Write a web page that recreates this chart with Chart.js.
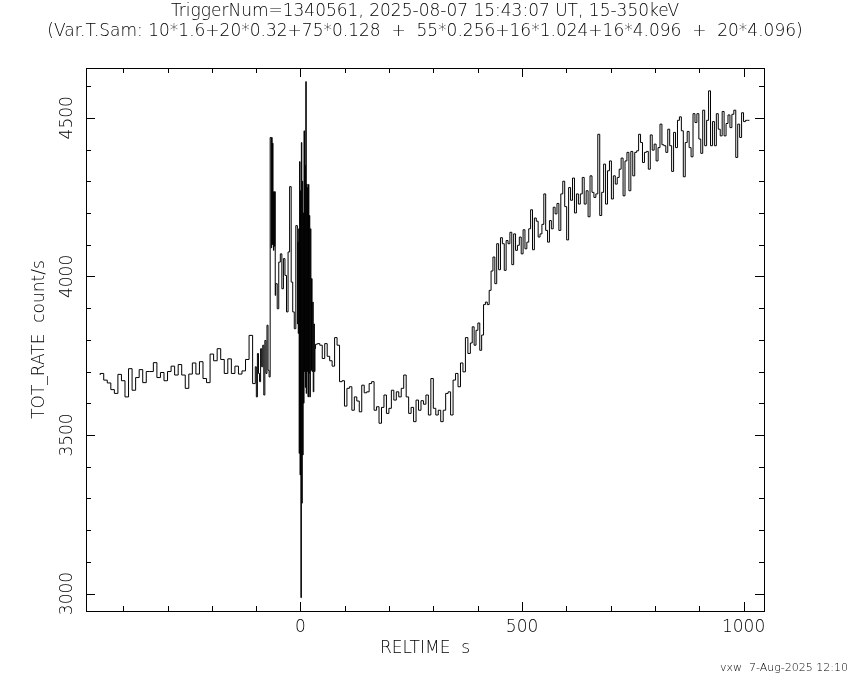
<!DOCTYPE html>
<html>
<head>
<meta charset="utf-8">
<title>TOT_RATE light curve</title>
<script src="https://cdn.jsdelivr.net/npm/chart.js@4.4.1/dist/chart.umd.min.js"></script>
<style>
  html, body { margin: 0; padding: 0; background: #fff; }
  #wrap { width: 850px; height: 680px; }
</style>
</head>
<body>
<div id="wrap"><canvas id="lc" width="850" height="680"></canvas></div>
<script>
// Binned light curve. Each block = consecutive bins of one width (s)
const firstBinStart = -452;

const binWidths = [8.0, 6.0, 2.4, 1.0, 3.5, 1.0, 1.3, 4.0, 5.57, 4.25, 4.4, 4.385];

// pre-trigger background
const ratePre = [3689, 3694, 3673, 3664, 3643, 3631, 3691, 3671, 3620, 3709, 3641, 3681, 3706, 3665,
  3700, 3700, 3728, 3681, 3697, 3671, 3700, 3717, 3689, 3722, 3689, 3647, 3692, 3727, 3692, 3731,
  3678, 3665, 3755, 3734, 3772, 3738, 3694, 3740, 3694, 3717, 3692, 3702, 3738];
const ratePreSpike = [3814];
const ratePreFine = [3662, 3715, 3620, 3757, 3694, 3668, 3772, 3715, 3783, 3626, 3798, 3694, 3846, 3704, 3683];
// precursor
const ratePrecursor = [4438, 4090, 4438, 4100, 4420, 4267, 4082, 4267, 4095, 4267];
const rateRise = [3940, 3977, 3898, 4045, 4071, 3961, 4056, 4003, 3888, 4077, 4283, 3982, 3888, 3835];
// main burst, fine sampling
const rateBurst = [4160, 3850, 4108, 3820, 4150, 3442, 4362, 3374, 4270, 2987, 4422, 3285, 4300, 3437,
  4200, 3600, 4459, 3700, 4350, 3650, 4614, 3631, 4291, 3700, 4280, 3620, 4290, 3694];
const rateBurstTail = [4192, 3620, 4150, 3704, 3993, 3700, 3919, 3636, 3850, 3700];
const rateAfter = [3772];
// post-burst dip
const rateDip = [3786, 3788, 3783, 3741, 3788, 3748, 3734, 3717, 3807, 3783, 3668, 3671, 3591, 3647,
  3652, 3578, 3620, 3607, 3573, 3657, 3633, 3636, 3662, 3668, 3578, 3589, 3537, 3587, 3626, 3568,
  3584, 3641, 3610, 3636, 3620, 3647, 3689, 3620, 3568, 3587, 3542, 3610, 3578, 3608, 3597, 3626,
  3563, 3678, 3584, 3563, 3578, 3542, 3578, 3631, 3636, 3563, 3673, 3694, 3652, 3727, 3699, 3807];
// background climb
const rateClimb = [3757, 3790, 3841, 3783, 3830, 3853, 3767, 3815, 3911, 3919, 3911, 3956, 4017, 4061,
  3977, 4103, 4021, 4122, 4103, 4019, 4113, 4103, 4139, 4037, 4134, 4082, 4098, 4124, 4071, 4147,
  4087, 4108, 4150, 4210, 4084, 4184, 4174, 4124, 4134, 4164, 4260, 4145, 4108, 4176, 4150, 4218, 4197];
const rateMid = [4230, 4145, 4260, 4300, 4220, 4115, 4280, 4240, 4310, 4200, 4260];
const rateLate = [4228, 4260, 4312, 4228, 4270, 4188, 4317, 4265, 4249, 4260, 4448, 4192, 4265, 4354,
  4228, 4333, 4364, 4244, 4317, 4291, 4312, 4338, 4373, 4254, 4364, 4391, 4270, 4394, 4317, 4391,
  4396, 4448, 4422, 4359, 4391, 4394, 4338, 4446, 4398, 4417, 4364, 4406, 4480, 4415, 4412, 4391,
  4464, 4412, 4331, 4454, 4406, 4492, 4503, 4459, 4314, 4422, 4457, 4406, 4377, 4513, 4485, 4513,
  4433, 4388, 4524, 4412, 4492, 4585, 4412, 4488, 4412, 4513, 4464, 4443, 4520, 4443, 4482, 4509,
  4469, 4511, 4524, 4375, 4480, 4438, 4516, 4488, 4492];

const rateBlocks = [ratePre, ratePreSpike, ratePreFine, ratePrecursor, rateRise, rateBurst, rateBurstTail,
  rateAfter, rateDip, rateClimb, rateMid, rateLate];

// axis ticks
const xTickValues = [-400, -300, -200, -100, 0, 100, 200, 300, 400, 500, 600, 700, 800, 900, 1000];
const xTickLabels = [0, 500, 1000];
const yTickValues = [3000, 3100, 3200, 3300, 3400, 3500, 3600, 3700, 3800, 3900, 4000, 4100, 4200, 4300, 4400, 4500, 4600];
const yTickLabels = [3000, 3500, 4000, 4500];

// build step points (bin starts + closing edge)
const points = [];
let t = firstBinStart;
rateBlocks.forEach((block, b) => {
  block.forEach(r => {
    points.push({ x: t, y: r });
    t += binWidths[b];
  });
});
points.push({ x: t, y: points[points.length - 1].y });

const FONT = '"DejaVu Sans", sans-serif';

// PGPLOT style frame: box, inward ticks on all sides, labels
const pgFrame = {
  id: 'pgFrame',
  afterDraw(chart) {
    const { ctx, chartArea: a, scales: { x, y } } = chart;
    ctx.save();
    ctx.strokeStyle = '#000';
    ctx.fillStyle = '#000';
    ctx.lineWidth = 1;
    ctx.strokeRect(Math.round(a.left) + 0.5, Math.round(a.top) + 0.5,
      Math.round(a.right - a.left), Math.round(a.bottom - a.top));

    ctx.beginPath();
    xTickValues.forEach(v => {
      const px = Math.round(x.getPixelForValue(v)) + 0.5;
      const len = xTickLabels.includes(v) ? 9 : 5;
      ctx.moveTo(px, a.bottom); ctx.lineTo(px, a.bottom - len);
      ctx.moveTo(px, a.top); ctx.lineTo(px, a.top + len);
    });
    yTickValues.forEach(v => {
      const py = Math.round(y.getPixelForValue(v)) + 0.5;
      const len = yTickLabels.includes(v) ? 9 : 5;
      ctx.moveTo(a.left, py); ctx.lineTo(a.left + len, py);
      ctx.moveTo(a.right, py); ctx.lineTo(a.right - len, py);
    });
    ctx.stroke();

    ctx.font = '200 17px ' + FONT;
    ctx.textAlign = 'center';
    ctx.textBaseline = 'middle';
    xTickLabels.forEach(v => ctx.fillText(String(v), x.getPixelForValue(v), a.bottom + 17));
    yTickLabels.forEach(v => {
      ctx.save();
      ctx.translate(a.left - 18, y.getPixelForValue(v));
      ctx.rotate(-Math.PI / 2);
      ctx.fillText(String(v), 0, 0);
      ctx.restore();
    });

    // axis titles
    ctx.fillText('RELTIME  s', (a.left + a.right) / 2, 649);
    ctx.save();
    ctx.translate(40, (a.top + a.bottom) / 2);
    ctx.rotate(-Math.PI / 2);
    ctx.fillText('TOT_RATE  count/s', 0, 0);
    ctx.restore();

    // header
    ctx.fillText('TriggerNum=1340561, 2025-08-07 15:43:07 UT, 15-350keV', 425, 12);
    ctx.fillText('(Var.T.Sam: 10*1.6+20*0.32+75*0.128  +  55*0.256+16*1.024+16*4.096  +  20*4.096)', 425, 32);

    // stamp
    ctx.font = '200 11px ' + FONT;
    ctx.textAlign = 'right';
    ctx.fillText('vxw  7-Aug-2025 12:10', 848, 668);
    ctx.restore();
  }
};

new Chart(document.getElementById('lc').getContext('2d'), {
  type: 'line',
  data: {
    datasets: [{
      label: 'TOT_RATE',
      data: points,
      stepped: 'after',
      borderColor: '#000',
      borderWidth: 1,
      pointRadius: 0,
      fill: false
    }]
  },
  options: {
    responsive: false,
    animation: false,
    events: [],
    layout: { padding: { left: 86, top: 68, right: 86, bottom: 69 } },
    scales: {
      x: { type: 'linear', min: -484, max: 1046, display: false },
      y: { type: 'linear', min: 2945, max: 4657, display: false }
    },
    plugins: {
      legend: { display: false },
      tooltip: { enabled: false }
    }
  },
  plugins: [pgFrame]
});
</script>
</body>
</html>
